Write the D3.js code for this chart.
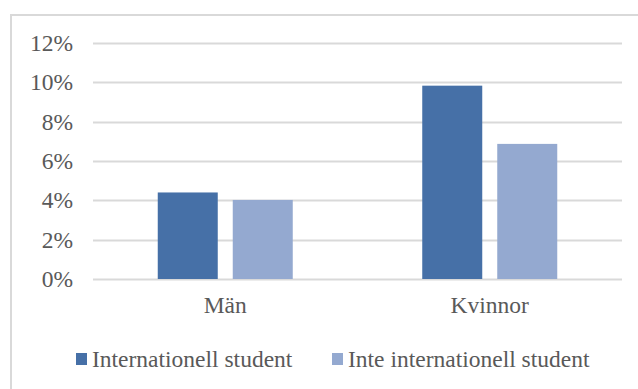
<!DOCTYPE html>
<html>
<head>
<meta charset="utf-8">
<script src="https://cdn.jsdelivr.net/npm/d3@7"></script>
<style>
  body { margin: 0; background: #fff; }
  svg { display: block; }
  .axis text { font-family: 'Liberation Serif', 'Times New Roman', serif; fill: #595959; }
</style>
</head>
<body>
<div id="chart"></div>
<script>
var categories = ["Män", "Kvinnor"];
var seriesNames = ["Internationell student", "Inte internationell student"];
var internationell = [0.044, 0.0983];
var inteInternationell = [0.0402, 0.0687];
var yTicks = [0, 0.02, 0.04, 0.06, 0.08, 0.10, 0.12];

var colors = ["#4670a7", "#94a9d0"];
var seriesValues = [internationell, inteInternationell];

var w = 638, h = 389;
var margin = {top: 43, right: 16, bottom: 110, left: 93};
var fontSize = '23.5px';

var svg = d3.select('#chart').append('svg')
    .attr('width', w)
    .attr('height', h);

// outer frame (only top and left edges show in the picture)
svg.append('rect')
    .attr('x', 11)
    .attr('y', 15)
    .attr('width', w + 20)
    .attr('height', h + 20)
    .attr('fill', 'none')
    .attr('stroke', '#d9d9d9')
    .attr('stroke-width', 2);

var plotW = w - margin.left - margin.right,
    plotH = 279 - margin.top;

var g = svg.append('g')
    .attr('transform', 'translate(' + margin.left + ',' + margin.top + ')');

var y = d3.scaleLinear()
    .domain([0, 0.12])
    .range([plotH, 0]);

var x0 = d3.scaleBand()
    .domain(categories)
    .range([0, plotW])
    .paddingInner(0)
    .paddingOuter(0);

// bars: 60px wide with a 15px gap inside each category
var x1 = d3.scaleBand()
    .domain(seriesNames)
    .range([x0.bandwidth() / 2 - 67.5, x0.bandwidth() / 2 + 67.5])
    .paddingInner(0.2);

// gridlines
g.append('g')
    .selectAll('line')
    .data(yTicks)
    .enter().append('line')
    .attr('x1', 0)
    .attr('x2', plotW)
    .attr('y1', function(d) { return Math.round(y(d)) + 0.5; })
    .attr('y2', function(d) { return Math.round(y(d)) + 0.5; })
    .attr('stroke', '#d9d9d9')
    .attr('stroke-width', 2);

var yAxis = g.append('g')
    .attr('class', 'axis')
    .call(d3.axisLeft(y)
        .tickValues(yTicks)
        .tickSize(0)
        .tickPadding(20)
        .tickFormat(d3.format('.0%')));
yAxis.select('.domain').remove();
yAxis.selectAll('text').style('font-size', fontSize);

var xAxis = g.append('g')
    .attr('class', 'axis')
    .attr('transform', 'translate(0,' + plotH + ')')
    .call(d3.axisBottom(x0).tickSize(0).tickPadding(17));
xAxis.select('.domain').remove();
xAxis.selectAll('text').style('font-size', fontSize);

var groups = g.selectAll('.cat')
    .data(categories)
    .enter().append('g')
    .attr('class', 'cat')
    .attr('transform', function(d) { return 'translate(' + x0(d) + ',0)'; });

groups.selectAll('rect')
    .data(function(d, i) {
        return seriesNames.map(function(s, j) {
            return {series: s, value: seriesValues[j][i], color: colors[j]};
        });
    })
    .enter().append('rect')
    .attr('x', function(d) { return x1(d.series); })
    .attr('width', x1.bandwidth())
    .attr('y', function(d) { return y(d.value); })
    .attr('height', function(d) { return plotH - y(d.value); })
    .attr('fill', function(d) { return d.color; });

// legend
var legendX = [76, 332];
var legend = svg.append('g');
seriesNames.forEach(function(s, i) {
    legend.append('rect')
        .attr('x', legendX[i])
        .attr('y', 353)
        .attr('width', 11)
        .attr('height', 12)
        .attr('fill', colors[i]);
    legend.append('text')
        .attr('x', legendX[i] + 16)
        .attr('y', 367)
        .style('font-family', "'Liberation Serif', 'Times New Roman', serif")
        .style('font-size', fontSize)
        .style('fill', '#595959')
        .text(s);
});
</script>
</body>
</html>
